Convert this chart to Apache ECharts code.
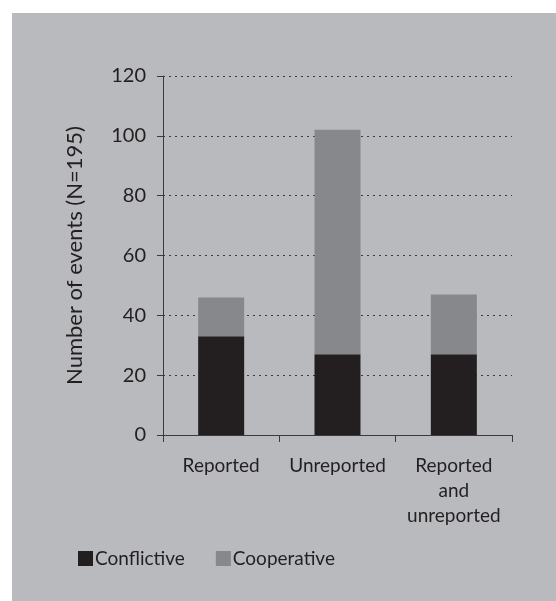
<!DOCTYPE html>
<html><head><meta charset="utf-8">
<script src="https://cdn.jsdelivr.net/npm/echarts@6/dist/echarts.min.js"></script>
<style>html,body{margin:0;padding:0;background:#fff}#c{width:556px;height:601px}</style>
</head><body><div id="c"></div>
<script>
const categories = ['Reported', 'Unreported', 'Reported\nand\nunreported'];
const conflictive = [33, 27, 27];
const cooperative = [13, 75, 20];
const yTicks = [0, 20, 40, 60, 80, 100, 120];

const FONT = 'Lato';
const chart = echarts.init(document.getElementById('c'));
chart.setOption({
  backgroundColor: '#ffffff',
  animation: false,
  graphic: [{
    type: 'rect', z: -10, silent: true,
    shape: { x: 12, y: 13, width: 544, height: 588 },
    style: { fill: '#b9babe' }
  }],
  grid: { left: 163, right: 44, top: 76, bottom: 166 },
  legend: {
    left: 73, top: 544,
    icon: 'rect', itemWidth: 15, itemHeight: 15, itemGap: 31,
    textStyle: { fontFamily: FONT, fontSize: 19, color: '#231f20', padding: [0, 0, 0, -3] },
    data: ['Conflictive', 'Cooperative']
  },
  xAxis: {
    type: 'category', data: categories,
    axisLine: { lineStyle: { color: '#3a3a3c', width: 1 } },
    axisTick: { show: true, length: 7, lineStyle: { color: '#3a3a3c' } },
    axisLabel: { fontFamily: FONT, fontSize: 19, color: '#231f20', lineHeight: 25, margin: 18, interval: 0 }
  },
  yAxis: {
    type: 'value', min: 0, max: 120, interval: 20,
    name: 'Number of events (N=195)', nameLocation: 'middle', nameGap: 77,
    nameTextStyle: { fontFamily: FONT, fontSize: 22, color: '#231f20' },
    axisLine: { show: true, lineStyle: { color: '#3a3a3c', width: 1 } },
    axisTick: { show: true, length: 6, lineStyle: { color: '#3a3a3c' } },
    axisLabel: { fontFamily: FONT, fontSize: 20, color: '#231f20', margin: 17,
      formatter: v => yTicks.includes(v) ? String(v) : '' },
    splitLine: { show: true, lineStyle: { color: '#3c3c3e', type: [2, 4], width: 1 } }
  },
  series: [
    { name: 'Conflictive', type: 'bar', stack: 't', barWidth: 46, data: conflictive,
      itemStyle: { color: '#231f20' } },
    { name: 'Cooperative', type: 'bar', stack: 't', barWidth: 46, data: cooperative,
      itemStyle: { color: '#87888c' } }
  ]
});
</script></body></html>
